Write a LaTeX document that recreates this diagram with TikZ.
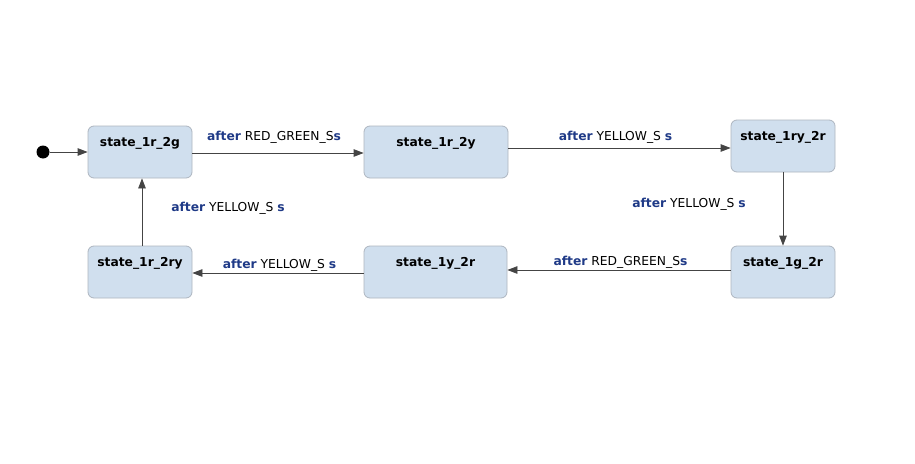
\documentclass[tikz,border=0pt]{standalone}
\usepackage{fontspec}
\setmainfont{DejaVu Sans}
\usetikzlibrary{arrows.meta}
\definecolor{boxfill}{HTML}{D0DFEE}
\definecolor{boxline}{HTML}{AEB6C0}
\definecolor{kw}{HTML}{1F3A87}
\definecolor{edgecol}{HTML}{444444}
\tikzset{
  statebox/.style={draw=boxline, fill=boxfill, rounded corners=6pt, line width=0.8pt, minimum width=104pt, minimum height=52pt, inner sep=0pt},
  stitle/.style={font=\fontsize{12.3}{14}\selectfont\bfseries, text=black, anchor=center, yshift=-17.5pt},
  conn/.style={draw=edgecol, line width=0.8pt, -{Triangle[length=10pt,width=7.5pt]}},
  elabel/.style={font=\fontsize{12.3}{14}\selectfont, text=black, inner sep=0pt, anchor=center},
}
\newcommand{\kwa}{\textcolor{kw}{\bfseries after}}
\newcommand{\kws}{\textcolor{kw}{\bfseries s}}
\begin{document}
\begin{tikzpicture}[x=1pt,y=1pt]
\useasboundingbox[fill=white] (0,0) rectangle (915,-463);
\node[circle, fill=black, minimum size=13pt, inner sep=0pt] (init) at (43,-152) {};
\node[statebox, label={[stitle]north:state\_1r\_2g}] (a) at (140,-152) {};
\node[statebox, minimum width=144pt, label={[stitle]north:state\_1r\_2y}] (b) at (436,-152) {};
\node[statebox, label={[stitle]north:state\_1ry\_2r}] (c) at (783,-146) {};
\node[statebox, label={[stitle]north:state\_1g\_2r}] (d) at (783,-272) {};
\node[statebox, minimum width=143pt, label={[stitle]north:state\_1y\_2r}] (e) at (435.5,-272) {};
\node[statebox, label={[stitle]north:state\_1r\_2ry}] (f) at (140,-272) {};
\draw[conn] (init) -- (a.west);
\draw[conn] ([yshift=-1pt]a.east) -- node[elabel, yshift=16pt, xshift=-4pt] {\kwa{} RED\_GREEN\_S\kws} ([yshift=-1pt]b.west);
\draw[conn] ([yshift=4pt]b.east) -- node[elabel, yshift=11pt, xshift=-4pt] {\kwa{} YELLOW\_S \kws} ([yshift=-2pt]c.west);
\draw[conn] (c.south) -- node[elabel, xshift=-94pt, yshift=5pt] {\kwa{} YELLOW\_S \kws} (d.north);
\draw[conn] ([yshift=2pt]d.west) -- node[elabel, yshift=8pt, xshift=1.5pt] {\kwa{} RED\_GREEN\_S\kws} ([yshift=2pt]e.east);
\draw[conn] ([yshift=-1pt]e.west) -- node[elabel, yshift=8pt, xshift=1.5pt] {\kwa{} YELLOW\_S \kws} ([yshift=-1pt]f.east);
\draw[conn] ([xshift=2pt]f.north) -- node[elabel, xshift=86pt, yshift=4pt] {\kwa{} YELLOW\_S \kws} ([xshift=2pt]a.south);
\end{tikzpicture}
\end{document}
